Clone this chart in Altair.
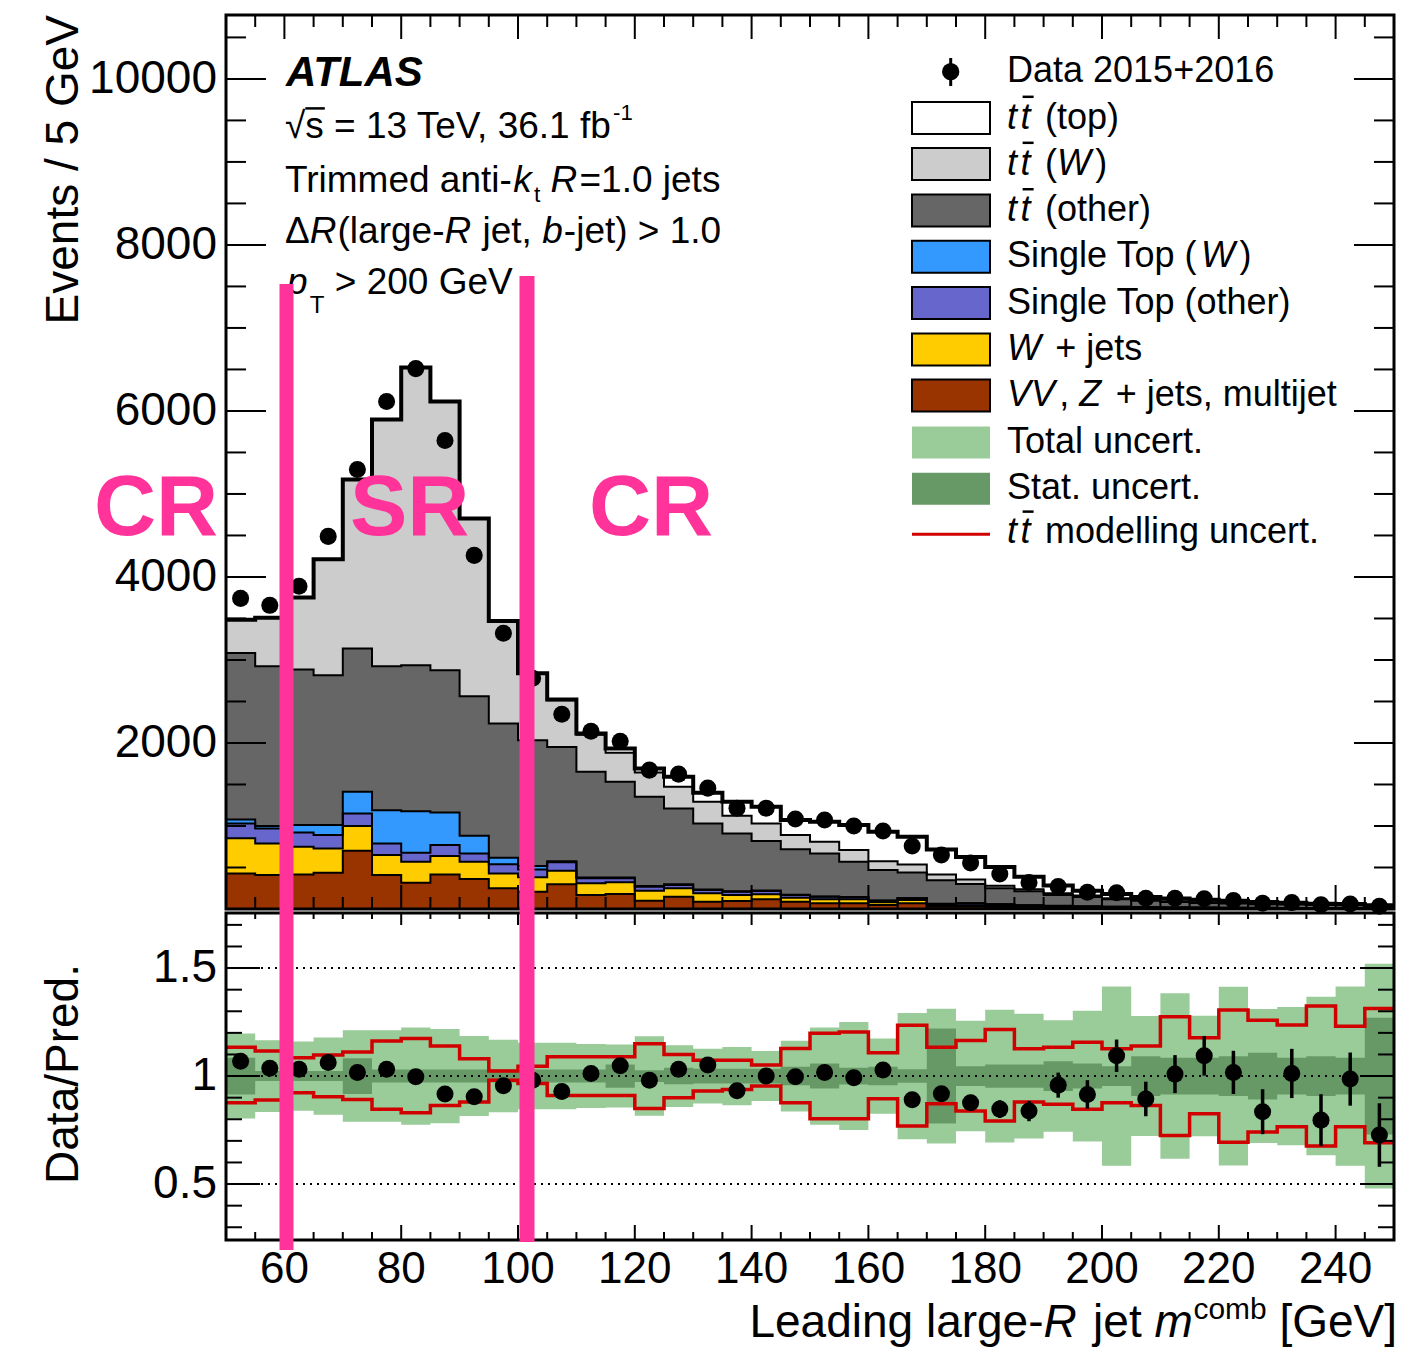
import altair as alt
import pandas as pd

# ---------------- values ----------------
bin_low = [50, 55, 60, 65, 70, 75, 80, 85, 90, 95, 100, 105, 110, 115, 120, 125, 130, 135, 140, 145,
           150, 155, 160, 165, 170, 175, 180, 185, 190, 195, 200, 205, 210, 215, 220, 225, 230, 235, 240, 245]
x_max = 250

vv_z_multijet = [429, 409, 417, 437, 702, 409, 317, 417, 361, 249, 209, 297, 168, 180, 100, 148, 88, 96, 116, 88,
                 68, 68, 48, 68, 28, 28, 24, 18, 14, 12, 10, 9, 8, 7, 6, 5, 5, 4, 4, 3]
w_jets = [422, 381, 333, 293, 297, 241, 252, 221, 208, 180, 172, 164, 141, 141, 120, 101, 101, 72, 61, 48,
          48, 48, 33, 40, 12, 17, 12, 10, 10, 8, 7, 6, 5, 5, 4, 4, 3, 3, 2, 2]
single_top_other = [180, 181, 173, 160, 152, 140, 109, 132, 101, 109, 96, 101, 60, 48, 48, 40, 40, 40, 40, 32,
                    32, 25, 19, 21, 20, 23, 20, 16, 12, 10, 9, 7, 6, 5, 5, 4, 4, 4, 4, 4]
single_top_w = [48, 28, 88, 121, 261, 401, 501, 393, 212, 79, 40, 13, 11, 9, 8, 8, 6, 5, 5, 4,
                3, 3, 2, 2, 2, 2, 2, 2, 2, 2, 1, 1, 1, 1, 1, 1, 1, 1, 1, 1]
ttbar_other = [2005, 1925, 1873, 1805, 1725, 1733, 1757, 1713, 1681, 1618, 1517, 1378, 1272, 1154, 1075, 915, 796, 698, 598, 548,
               519, 425, 367, 310, 283, 230, 192, 169, 130, 113, 90, 77, 64, 54, 50, 44, 41, 36, 33, 30]
ttbar_w = [402, 586, 870, 1396, 2037, 2973, 3586, 3237, 2142, 1234, 802, 562, 448, 349, 294, 260, 260, 212, 211, 170,
           140, 141, 106, 95, 72, 55, 30, 24, 21, 17, 12, 8, 9, 9, 6, 6, 6, 4, 4, 4]
ttbar_top = [0, 0, 0, 0, 0, 0, 0, 0, 0, 0, 4, 8, 14, 53, 48, 120, 109, 168, 200, 181,
             241, 301, 355, 334, 301, 271, 225, 151, 95, 58, 51, 37, 35, 31, 28, 20, 16, 11, 12, 1]
data_counts = [3742, 3658, 3887, 4489, 5295, 6113, 6510, 5644, 4260, 3321, 2780, 2347, 2142, 2022, 1673, 1625, 1456, 1215, 1215, 1083,
               1071, 999, 939, 758, 650, 555, 421, 320, 272, 202, 197, 130, 129, 123, 102, 70, 77, 50, 59, 33]

ratio = [1.069, 1.036, 1.032, 1.063, 1.017, 1.032, 0.997, 0.917, 0.904, 0.955, 0.981, 0.929, 1.012, 1.048, 0.981, 1.032, 1.051, 0.932, 1.000, 0.997,
         1.017, 0.992, 1.028, 0.890, 0.918, 0.876, 0.847, 0.838, 0.958, 0.915, 1.094, 0.894, 1.009, 1.094, 1.017, 0.835, 1.012, 0.796, 0.986, 0.727]
ratio_err = [0.017, 0.017, 0.017, 0.016, 0.014, 0.013, 0.012, 0.013, 0.015, 0.017, 0.019, 0.020, 0.022, 0.023, 0.025, 0.025, 0.027, 0.027, 0.029, 0.030,
             0.031, 0.031, 0.033, 0.032, 0.036, 0.037, 0.041, 0.047, 0.058, 0.066, 0.075, 0.080, 0.088, 0.092, 0.100, 0.104, 0.114, 0.120, 0.123, 0.147]
total_unc = [0.197, 0.166, 0.160, 0.179, 0.212, 0.212, 0.225, 0.218, 0.185, 0.168, 0.154, 0.154, 0.148, 0.146, 0.184, 0.143, 0.127, 0.135, 0.116, 0.164,
             0.225, 0.250, 0.174, 0.292, 0.312, 0.256, 0.307, 0.289, 0.258, 0.303, 0.415, 0.278, 0.383, 0.279, 0.414, 0.310, 0.320, 0.367, 0.415, 0.520]
stat_unc = [0.085, 0.023, 0.023, 0.023, 0.083, 0.030, 0.030, 0.030, 0.030, 0.030, 0.030, 0.030, 0.030, 0.054, 0.027, 0.038, 0.034, 0.034, 0.034, 0.043,
            0.058, 0.039, 0.043, 0.031, 0.220, 0.046, 0.054, 0.054, 0.069, 0.058, 0.046, 0.092, 0.085, 0.085, 0.092, 0.108, 0.085, 0.092, 0.085, 0.270]
ttbar_mod_up = [1.134, 1.116, 1.085, 1.097, 1.111, 1.162, 1.174, 1.139, 1.080, 1.023, 1.046, 1.090, 1.090, 1.090, 1.150, 1.100, 1.073, 1.073, 1.051, 1.128,
                1.198, 1.204, 1.108, 1.235, 1.134, 1.165, 1.216, 1.127, 1.134, 1.157, 1.127, 1.139, 1.275, 1.177, 1.306, 1.258, 1.236, 1.324, 1.231, 1.313]
ttbar_mod_down = [0.877, 0.889, 0.923, 0.904, 0.892, 0.846, 0.830, 0.864, 0.880, 0.981, 0.966, 0.910, 0.910, 0.910, 0.850, 0.900, 0.931, 0.938, 0.954, 0.877,
                  0.802, 0.802, 0.895, 0.769, 0.872, 0.838, 0.792, 0.880, 0.869, 0.846, 0.877, 0.864, 0.725, 0.826, 0.694, 0.741, 0.765, 0.676, 0.765, 0.691]

comp_names = ["VV, Z + jets, multijet", "W + jets", "Single Top (other)", "Single Top (W)",
              "tt (other)", "tt (W)", "tt (top)"]
comp_colors = ["#993300", "#ffcc00", "#6666cc", "#3399ff", "#666666", "#cccccc", "#ffffff"]

y_top_labels = [2000, 4000, 6000, 8000, 10000]
ratio_labels = [0.5, 1.0, 1.5]
ratio_label_text = ["0.5", "1", "1.5"]
x_labels = [60, 80, 100, 120, 140, 160, 180, 200, 220, 240]

# ---------------- layout (one layered chart, two stacked panels) ----------------
W, H1, H2, GAP = 1168, 894, 327, 4
HT = H1 + GAP + H2
R0 = H1 + GAP                     # top of ratio panel (chart coords)
OX, OY = 226, 15                  # page position of chart origin
FONT = "Liberation Sans"
PINK = "#ff3399"
RED = "#d00000"

Y_MAX = 10770
K1 = H1 / Y_MAX
R_LO, R_HI = 0.241, 1.755
K2 = H2 / (R_HI - R_LO)

xs = alt.Scale(domain=[50, x_max], nice=False, zero=False)
ys = alt.Scale(domain=[-(HT - H1) / K1, Y_MAX], nice=False, zero=False)
rs = alt.Scale(domain=[R_LO, R_LO + HT / K2], nice=False, zero=False)


def X(f):
    return alt.X(f, type="quantitative", scale=xs, axis=None)


def YT(f, **kw):
    return alt.Y(f, type="quantitative", scale=ys, axis=None, **kw)


def YR(f, **kw):
    return alt.Y(f, type="quantitative", scale=rs, axis=None, **kw)


# ---------------- text helpers (Arial/Liberation metrics) ----------------
AW = {' ': 278, '.': 278, ',': 278, '-': 333, '+': 584, '=': 584, '>': 584, '(': 333, ')': 333,
      '[': 278, ']': 278, '/': 278, '√': 549, 'Δ': 668}
for c in '0123456789':
    AW[c] = 556
AW.update(dict(a=556, b=556, c=500, d=556, e=556, f=278, g=556, h=556, i=222, j=222, k=500, l=222,
               m=833, n=556, o=556, p=556, q=556, r=333, s=500, t=278, u=556, v=500, w=722, x=500,
               y=500, z=500))
AW.update(dict(A=667, B=667, C=722, D=722, E=667, F=611, G=778, H=722, I=278, J=500, K=667, L=556,
               M=833, N=722, O=778, P=667, Q=778, R=722, S=667, T=611, U=722, V=667, W=944, X=667,
               Y=667, Z=611))


def tw(s, fs):
    return sum(AW.get(ch, 556) for ch in s) * fs / 1000.0


def compose(segs, x, y, fs, out, bars=None, dry=False, igap=0.06):
    cx = x
    prev_it = False
    for seg in segs:
        text, style = seg[0], seg[1]
        f = fs * (seg[2] if len(seg) > 2 else 1.0)
        dy = seg[3] if len(seg) > 3 else 0
        bar = len(seg) > 4 and seg[4]
        shift = seg[5] if len(seg) > 5 else 0
        cx += shift
        if prev_it and style != "i":
            cx += igap * fs
        if bar:
            cx += 0.1 * fs
        lead = len(text) - len(text.lstrip(" "))
        if not dry:
            out.append(dict(text=text.strip(), px=cx + tw(" " * lead, f), py=y + dy, fs=f, style=style))
            if bar and bars is not None:
                bars.append(dict(x0=cx + 2, x1=cx + tw(text, f) + 3, y=y - 0.88 * fs))
        cx += tw(text, f)
        prev_it = style == "i"
    return cx - x


# ---------------- top panel ----------------
edges = bin_low + [x_max]
series = [vv_z_multijet, w_jets, single_top_other, single_top_w, ttbar_other, ttbar_w, ttbar_top]
rows = []
cum = [0] * len(bin_low)
for name, s in zip(comp_names, series):
    new = [a + b for a, b in zip(cum, s)]
    for i in range(len(edges)):
        j = min(i, len(bin_low) - 1)
        rows.append({"comp": name, "x": edges[i], "lo": cum[j], "hi": new[j]})
    cum = new
stack_df = pd.DataFrame(rows)
total_df = stack_df[stack_df["comp"] == comp_names[-1]]
inner_df = stack_df[stack_df["comp"] != comp_names[-1]]
centers = [b + 2.5 for b in bin_low]

areas = alt.Chart(stack_df).mark_area(interpolate="step-after").encode(
    x=X("x"), y=YT("hi", stack=None), y2="lo",
    color=alt.Color("comp:N", scale=alt.Scale(domain=comp_names, range=comp_colors), legend=None),
)
steps = alt.Chart(inner_df).mark_line(interpolate="step-after", color="black", strokeWidth=2).encode(
    x=X("x"), y=YT("hi"), detail="comp:N")
total_line = alt.Chart(total_df).mark_line(interpolate="step-after", color="black", strokeWidth=4).encode(
    x=X("x"), y=YT("hi"))
data_pts = alt.Chart(pd.DataFrame({"x": centers, "y": data_counts})).mark_circle(
    size=290, color="black", opacity=1).encode(x=X("x"), y=YT("y"))


def vticks(vals, y0, y1, sw=2):
    return alt.Chart(pd.DataFrame({"v": vals})).mark_rule(color="black", strokeWidth=sw).encode(
        x=X("v"), y=alt.value(y0), y2=alt.value(y1))


def hticks(vals, yenc, x0, x1, sw=2):
    return alt.Chart(pd.DataFrame({"v": vals})).mark_rule(color="black", strokeWidth=sw).encode(
        y=yenc("v"), x=alt.value(x0), x2=alt.value(x1))


major_x = x_labels
minor_x = [v for v in range(55, 250, 5) if v not in major_x]
major_y = y_top_labels
minor_y = [v for v in range(500, Y_MAX, 500) if v % 2000]
major_r = ratio_labels
minor_r = [round(0.3 + 0.1 * k, 1) for k in range(15)]
minor_r = [v for v in minor_r if v not in major_r]

ticks = [
    vticks(major_x, H1, H1 - 24), vticks(minor_x, H1, H1 - 12),
    vticks(major_x, 0, 24), vticks(minor_x, 0, 12),
    hticks(major_y, YT, 0, 40), hticks(minor_y, YT, 0, 20),
    hticks(major_y, YT, W - 40, W), hticks(minor_y, YT, W - 20, W),
    vticks(major_x, HT, HT - 15), vticks(minor_x, HT, HT - 8),
    vticks(major_x, R0, R0 + 12), vticks(minor_x, R0, R0 + 6),
    hticks(major_r, YR, 0, 34), hticks(minor_r, YR, 0, 16),
    hticks(major_r, YR, W - 34, W), hticks(minor_r, YR, W - 16, W),
]

frames = [
    alt.Chart(pd.DataFrame({"a": [0]})).mark_rect(fillOpacity=0, stroke="black", strokeWidth=3).encode(
        x=alt.value(0), x2=alt.value(W), y=alt.value(0), y2=alt.value(H1)),
    alt.Chart(pd.DataFrame({"a": [0]})).mark_rect(fillOpacity=0, stroke="black", strokeWidth=3).encode(
        x=alt.value(0), x2=alt.value(W), y=alt.value(R0), y2=alt.value(HT)),
]

# axis labels as text marks
lab_y_top = alt.Chart(pd.DataFrame({"v": y_top_labels, "t": [str(v) for v in y_top_labels]})).mark_text(
    align="right", baseline="middle", fontSize=46, font=FONT, color="black", dx=-1).encode(
    y=YT("v"), x=alt.value(-8), text="t:N")
lab_y_rat = alt.Chart(pd.DataFrame({"v": ratio_labels, "t": ratio_label_text})).mark_text(
    align="right", baseline="middle", fontSize=46, font=FONT, color="black", dx=-1).encode(
    y=YR("v"), x=alt.value(-8), text="t:N")
lab_x = alt.Chart(pd.DataFrame({"v": x_labels, "t": [str(v) for v in x_labels]})).mark_text(
    align="center", baseline="alphabetic", fontSize=44, font=FONT, color="black").encode(
    x=X("v"), y=alt.value(1283 - OY), text="t:N")

# ---------------- annotation texts (page coordinates) ----------------
txt, bars = [], []
txt.append(dict(text="ATLAS", px=286, py=86, fs=42, style="bi"))
FS = 37
compose([("√", "n"), ("s", "n"), (" = 13 TeV, 36.1 fb", "n"), ("-1", "n", 0.6, -18, False, -6)],
        285, 138, FS, txt)
s_x = 285 + tw("√", FS)
bars.append(dict(x0=s_x, x1=s_x + tw("s", FS) + 1, y=138 - 0.8 * FS))
compose([("Trimmed anti-", "n"), ("k", "i"), ("t", "n", 0.62, 10), (" ", "n"), ("R", "i"), ("=1.0 jets", "n")],
        285, 192, FS, txt)
compose([("Δ", "n"), ("R", "i"), ("(large-", "n"), ("R", "i"), (" jet, ", "n"), ("b", "i"), ("-jet) > 1.0", "n")],
        285, 243, FS, txt, igap=0.03)
compose([("p", "i"), ("T", "n", 0.65, 19), (" > 200 GeV", "n")], 287, 294, FS, txt)

LFS = 36
row_c = [71.7, 118, 164, 210.4, 256.7, 303, 349.4, 395.6, 442.5, 488.8, 534.3]
TT = [("t", "i"), ("t", "i", 1.0, 0, True)]
leg_rows = [
    [("Data 2015+2016", "n")],
    TT + [(" (top)", "n")],
    TT + [(" (", "n"), ("W", "i"), (")", "n")],
    TT + [(" (other)", "n")],
    [("Single Top (", "n"), ("W", "i"), (")", "n")],
    [("Single Top (other)", "n")],
    [("W", "i"), (" + jets", "n")],
    [("VV", "i"), (", ", "n"), ("Z", "i"), (" + jets, multijet", "n")],
    [("Total uncert.", "n")],
    [("Stat. uncert.", "n")],
    TT + [(" modelling uncert.", "n")],
]
for k, (c, segs) in enumerate(zip(row_c, leg_rows)):
    compose(segs, 1007, c + (9 if k == len(row_c) - 1 else 10.5), LFS, txt, bars, igap=0.12)

xt_segs = [("Leading large-", "n"), ("R", "i"), (" jet ", "n"), ("m", "i"), ("comb", "n", 0.65, -18, False, -3),
           (" [GeV]", "n")]
wid = compose(xt_segs, 0, 0, 46, [], dry=True, igap=0.08)
compose(xt_segs, 1397 - wid, 1337, 46, txt, igap=0.08)

box_rows = []
for k, col in enumerate(comp_colors[::-1]):
    c = row_c[1 + k]
    box_rows.append(dict(x0=912 - OX, x1=990 - OX, y0=c - 16 - OY, y1=c + 16 - OY, col=col))
box_df = pd.DataFrame(box_rows)
green_df = pd.DataFrame([
    dict(x0=912 - OX, x1=990 - OX, y0=row_c[8] - 16 - OY, y1=row_c[8] + 16 - OY, col="#99cc99"),
    dict(x0=912 - OX, x1=990 - OX, y0=row_c[9] - 16 - OY, y1=row_c[9] + 16 - OY, col="#669966"),
])


def rect_layer(df, stroke=True):
    kw = dict(stroke="black", strokeWidth=2) if stroke else dict(strokeWidth=0)
    return alt.Chart(df).mark_rect(**kw).encode(
        x=alt.X("x0:Q", scale=None, axis=None), x2="x1:Q",
        y=alt.Y("y0:Q", scale=None, axis=None), y2="y1:Q",
        color=alt.Color("col:N", scale=None, legend=None))


def to_chart(items):
    df = pd.DataFrame(items)
    df["px"] = df["px"] - OX
    df["py"] = df["py"] - OY
    return df


def text_layers(df, color="black", weight_n="normal"):
    out = []
    for style in ["n", "i", "bi"]:
        sub = df[df["style"] == style]
        if len(sub) == 0:
            continue
        mk = dict(align="left", baseline="alphabetic", font=FONT, color=color)
        if style == "n" and weight_n != "normal":
            mk["fontWeight"] = weight_n
        if style == "i":
            mk["fontStyle"] = "italic"
        if style == "bi":
            mk.update(fontStyle="italic", fontWeight="bold")
        out.append(alt.Chart(sub).mark_text(**mk).encode(
            x=alt.X("px:Q", scale=None, axis=None),
            y=alt.Y("py:Q", scale=None, axis=None),
            size=alt.Size("fs:Q", scale=None, legend=None),
            text="text:N"))
    return out


bar_df = pd.DataFrame(bars)
bar_df["x0"] = bar_df["x0"] - OX
bar_df["x1"] = bar_df["x1"] - OX
bar_df["y"] = bar_df["y"] - OY
bar_layer = alt.Chart(bar_df).mark_rule(color="black", strokeWidth=2.5).encode(
    x=alt.X("x0:Q", scale=None, axis=None), x2="x1:Q", y=alt.Y("y:Q", scale=None, axis=None))

txt_df = to_chart(txt)
pink_df = to_chart([dict(text="CR", px=94, py=535, fs=86, style="n"),
                    dict(text="SR", px=350, py=535, fs=86, style="n"),
                    dict(text="CR", px=589, py=535, fs=86, style="n")])

one = pd.DataFrame({"a": [0]})
leg_marker = alt.Chart(one).mark_circle(size=300, color="black", opacity=1).encode(
    x=alt.value(950.7 - OX), y=alt.value(71.7 - OY))
leg_marker_bar = alt.Chart(one).mark_rule(color="black", strokeWidth=3).encode(
    x=alt.value(950.7 - OX), y=alt.value(58 - OY), y2=alt.value(86 - OY))
leg_red = alt.Chart(one).mark_rule(color=RED, strokeWidth=3).encode(
    x=alt.value(912 - OX), x2=alt.value(990 - OX), y=alt.value(row_c[-1] - OY))

ytitle_top = alt.Chart(one).mark_text(
    text="Events / 5 GeV", angle=270, align="right", baseline="alphabetic", fontSize=46,
    font=FONT, color="black").encode(x=alt.value(78 - OX), y=alt.value(15 - OY))
ytitle_bot = alt.Chart(one).mark_text(
    text="Data/Pred.", angle=270, align="center", baseline="alphabetic", fontSize=46,
    font=FONT, color="black").encode(x=alt.value(78 - OX), y=alt.value(1074 - OY))

# ---------------- ratio panel ----------------
brow = []
for i in range(len(edges)):
    j = min(i, len(bin_low) - 1)
    brow.append(dict(x=edges[i], t_hi=1 + total_unc[j], t_lo=1 - total_unc[j],
                     s_hi=1 + stat_unc[j], s_lo=1 - stat_unc[j],
                     up=ttbar_mod_up[j], dn=ttbar_mod_down[j]))
band_df = pd.DataFrame(brow)
rdf = pd.DataFrame(dict(x=centers, r=ratio, lo=[r - e for r, e in zip(ratio, ratio_err)],
                        hi=[r + e for r, e in zip(ratio, ratio_err)]))

tot_band = alt.Chart(band_df).mark_area(interpolate="step-after", color="#99cc99").encode(
    x=X("x"), y=YR("t_hi"), y2="t_lo")
stat_band = alt.Chart(band_df).mark_area(interpolate="step-after", color="#669966").encode(
    x=X("x"), y=YR("s_hi"), y2="s_lo")
dotted = alt.Chart(pd.DataFrame({"v": major_r})).mark_rule(
    color="black", strokeWidth=2, strokeDash=[2, 5]).encode(
    y=YR("v"), x=alt.value(0), x2=alt.value(W))
red_up = alt.Chart(band_df).mark_line(interpolate="step-after", color=RED, strokeWidth=3.5).encode(
    x=X("x"), y=YR("up"))
red_dn = alt.Chart(band_df).mark_line(interpolate="step-after", color=RED, strokeWidth=3.5).encode(
    x=X("x"), y=YR("dn"))
err_bars = alt.Chart(rdf).mark_rule(color="black", strokeWidth=3.5).encode(
    x=X("x"), y=YR("lo"), y2="hi")
r_pts = alt.Chart(rdf).mark_circle(size=290, color="black", opacity=1).encode(
    x=X("x"), y=YR("r"))

pink_l1 = alt.Chart(one).mark_rule(color=PINK, strokeWidth=14).encode(
    x=alt.value(286.5 - OX), y=alt.value(284 - OY), y2=alt.value(1250 - OY))
pink_l2 = alt.Chart(one).mark_rule(color=PINK, strokeWidth=15).encode(
    x=alt.value(527 - OX), y=alt.value(276 - OY), y2=alt.value(1242 - OY))

layers = ([areas, steps, total_line, data_pts,
           tot_band, stat_band, dotted, red_up, red_dn, err_bars, r_pts]
          + ticks + frames
          + [lab_y_top, lab_y_rat, lab_x,
             rect_layer(box_df, True), rect_layer(green_df, False), leg_marker, leg_marker_bar, leg_red,
             bar_layer]
          + text_layers(txt_df) + [ytitle_top, ytitle_bot]
          + text_layers(pink_df, PINK, weight_n="bold") + [pink_l1, pink_l2])

chart = alt.layer(*layers).resolve_scale(y="independent").properties(
    width=W, height=HT,
    padding={"left": OX - 8, "top": OY - 8, "right": 1388 - (OX - 8) - W, "bottom": 107},
    autosize=alt.AutoSizeParams(type="none"),
).configure_view(stroke="transparent")

chart.save("out.html", embed_options={"renderer": "svg", "actions": False})
